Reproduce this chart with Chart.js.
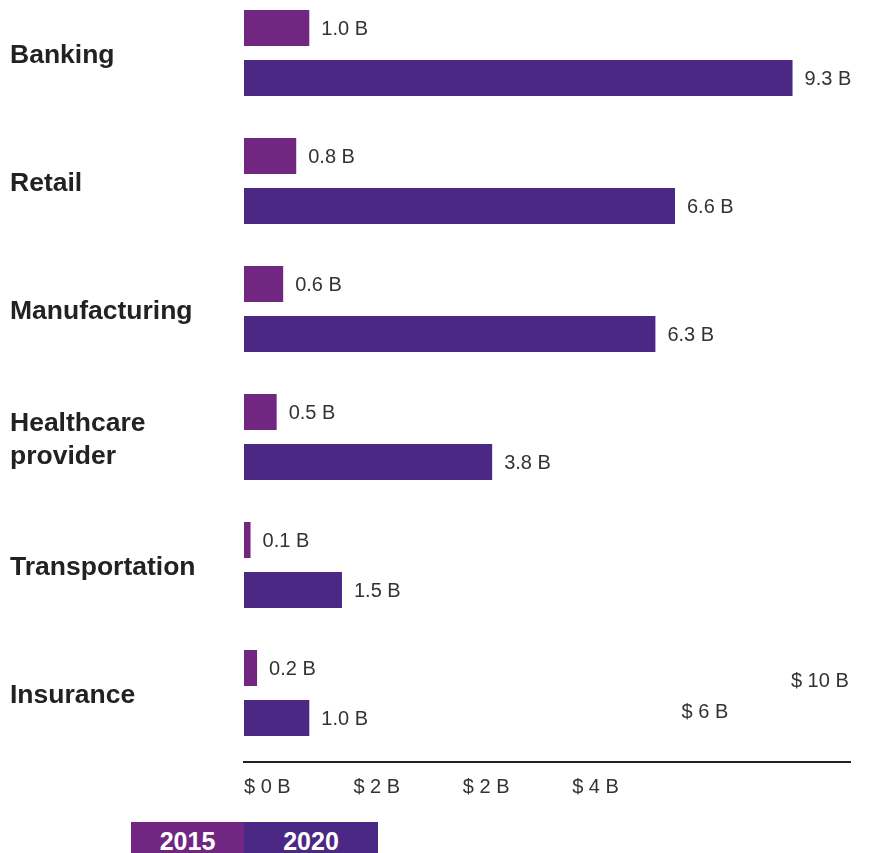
<!DOCTYPE html>
<html>
<head>
<meta charset="utf-8">
<script src="https://cdn.jsdelivr.net/npm/chart.js@4.4.1/dist/chart.umd.min.js"></script>
<style>
  html, body { margin: 0; padding: 0; background: #fff; }
  #wrap { position: relative; width: 869px; height: 853px; overflow: hidden; }
  #legend { position: absolute; left: 131px; top: 822px; display: flex; }
  #legend span {
    display: block; height: 31px; text-align: center; overflow: hidden;
    color: #fff; font: bold 25px "Liberation Sans", Arial, sans-serif;
    line-height: 39px;
  }
</style>
</head>
<body>
<div id="wrap">
  <canvas id="chart" width="869" height="853"></canvas>
  <div id="legend"></div>
</div>
<script>
const categories = ['Banking', 'Retail', 'Manufacturing', ['Healthcare', 'provider'], 'Transportation', 'Insurance'];
const seriesNames = ['2015', '2020'];
const values2015 = [1.0, 0.8, 0.6, 0.5, 0.1, 0.2];
const values2020 = [8.4, 6.6, 6.3, 3.8, 1.5, 1.0];
const labels2015 = ['1.0 B', '0.8 B', '0.6 B', '0.5 B', '0.1 B', '0.2 B'];
const labels2020 = ['9.3 B', '6.6 B', '6.3 B', '3.8 B', '1.5 B', '1.0 B'];
const tickLabels = ['$ 0 B', '$ 2 B', '$ 2 B', '$ 4 B', '$ 6 B', '$ 10 B'];

const colors = ['#712781', '#4b2884'];
const valueLabels = [labels2015, labels2020];
const smallFont = '20px "Liberation Sans", Arial, sans-serif';

// bar value labels, to the right of each bar
const barLabels = {
  id: 'barLabels',
  afterDatasetsDraw(chart) {
    const ctx = chart.ctx;
    ctx.save();
    ctx.font = smallFont;
    ctx.fillStyle = '#333';
    ctx.textAlign = 'left';
    ctx.textBaseline = 'middle';
    chart.data.datasets.forEach((ds, d) => {
      chart.getDatasetMeta(d).data.forEach((bar, i) => {
        ctx.fillText(valueLabels[d][i], bar.x + 12, bar.y + 1);
      });
    });
    ctx.restore();
  }
};

// tick labels along the bottom axis (some sit higher, as in the original)
const tickText = {
  id: 'tickText',
  afterDraw(chart, args, opts) {
    const ctx = chart.ctx;
    const s = chart.scales.xt;
    ctx.save();
    ctx.font = smallFont;
    ctx.fillStyle = '#333';
    ctx.textAlign = 'left';
    ctx.textBaseline = 'middle';
    tickLabels.forEach((t, i) => {
      ctx.fillText(t, s.getPixelForValue(i), chart.chartArea.bottom + 25 - opts.lift[i]);
    });
    ctx.restore();
  }
};

new Chart(document.getElementById('chart'), {
  type: 'bar',
  data: {
    datasets: [
      { label: seriesNames[0], data: values2015.map((v, i) => ({ x: v, y: i })), backgroundColor: colors[0], clip: false },
      { label: seriesNames[1], data: values2020.map((v, i) => ({ x: v, y: i })), backgroundColor: colors[1], clip: false }
    ]
  },
  options: {
    indexAxis: 'y',
    responsive: false,
    animation: false,
    categoryPercentage: 0.78125,
    barPercentage: 0.72,
    layout: { padding: { left: 10, right: 19, top: 0, bottom: 0 } },
    scales: {
      y: {
        type: 'linear',
        reverse: true,
        offset: false,
        min: -53 / 128,
        max: -53 / 128 + 762 / 128,
        grid: { display: false },
        border: { display: false },
        afterBuildTicks: s => { s.ticks = categories.map((c, i) => ({ value: i })); },
        afterFit: s => { s.width = 234; s.paddingTop = 0; s.paddingBottom = 0; },
        ticks: {
          crossAlign: 'far',
          labelOffset: 3,
          color: '#222',
          font: { family: '"Liberation Sans", Arial, sans-serif', size: 26.5, weight: 'bold', lineHeight: 1.25 },
          callback: v => categories[v]
        }
      },
      x: {
        min: 0,
        max: 9.28,
        grid: { display: false },
        border: { display: true, color: '#222', width: 2 },
        ticks: { display: false },
        afterFit: s => { s.height = 91; }
      },
      xt: {
        type: 'linear',
        axis: 'x',
        position: 'bottom',
        display: false,
        min: 0,
        max: 5.54
      }
    },
    plugins: {
      legend: { display: false },
      tooltip: { enabled: false },
      tickText: { lift: [0, 0, 0, 0, 75, 106] }
    }
  },
  plugins: [barLabels, tickText]
});

// legend blocks under the axis
const legend = document.getElementById('legend');
const widths = [113, 134];
seriesNames.forEach((n, i) => {
  const el = document.createElement('span');
  el.textContent = n;
  el.style.background = colors[i];
  el.style.width = widths[i] + 'px';
  legend.appendChild(el);
});
</script>
</body>
</html>
